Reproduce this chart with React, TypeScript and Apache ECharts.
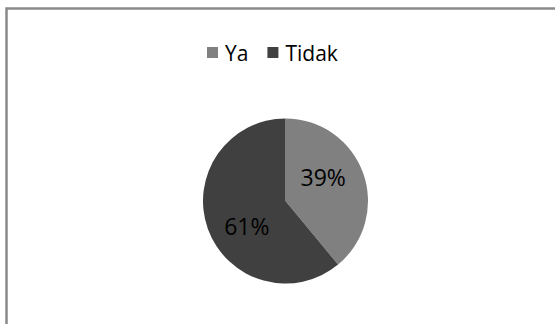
import React, { useEffect, useRef } from "react";
import * as echarts from "echarts";

const categories = ["Ya", "Tidak"];
const values = [39, 61];
const colors = ["#808080", "#404040"];

export default function App() {
  const ref = useRef<HTMLDivElement>(null);
  useEffect(() => {
    const chart = echarts.init(ref.current!, undefined, { renderer: "svg" });
    chart.setOption({
      animation: false,
      backgroundColor: "#ffffff",
      graphic: [
        {
          type: "rect",
          shape: { x: 6.5, y: 8.5, width: 700, height: 500 },
          style: { fill: "none", stroke: "#8a8a8a", lineWidth: 2.5 },
          silent: true,
        },
      ],
      legend: {
        data: categories,
        left: 202,
        top: 37,
        itemWidth: 11,
        itemHeight: 11,
        itemGap: 19,
        icon: "rect",
        textStyle: { fontFamily: "Open Sans", fontSize: 21, color: "#000", padding: [0, 0, 0, 2] },
      },
      series: [
        {
          type: "pie",
          center: [285.5, 201],
          radius: [0, 82.5],
          startAngle: 90,
          clockwise: true,
          label: {
            show: true,
            position: "inside",
            formatter: "{d}%",
            fontFamily: "Open Sans",
            fontSize: 23,
            color: "#000",
          },
          labelLine: { show: false },
          itemStyle: { borderWidth: 0 },
          data: categories.map((c, i) => ({
            name: c,
            value: values[i],
            itemStyle: { color: colors[i] },
            label: { offset: i === 0 ? [-4, -9] : [3, 10] },
          })),
        },
      ],
    });
    return () => chart.dispose();
  }, []);
  return (
    <div
      ref={ref}
      style={{ position: "fixed", left: 0, top: 0, width: 555, height: 324 }}
    />
  );
}
